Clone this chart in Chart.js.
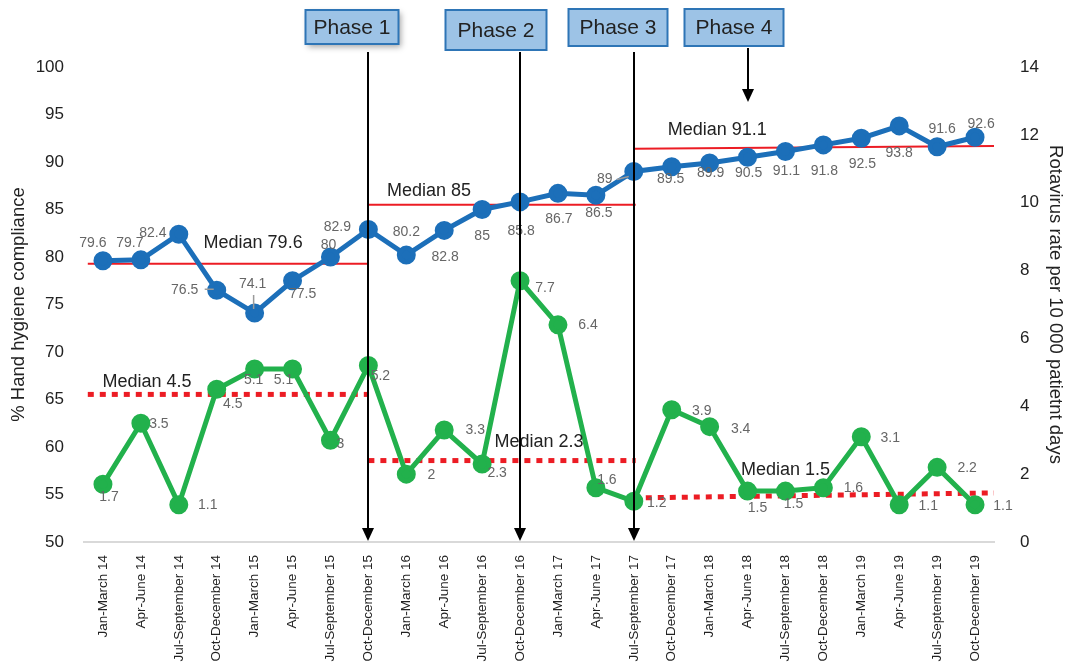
<!DOCTYPE html>
<html>
<head>
<meta charset="utf-8">
<script src="https://cdn.jsdelivr.net/npm/chart.js@4.4.0/dist/chart.umd.min.js"></script>
<style>
  html, body { margin: 0; padding: 0; background: #fff; }
  #wrap { width: 1068px; height: 667px; }
</style>
</head>
<body>
<div id="wrap"><canvas id="c"></canvas></div>
<script>
// quarters
const quarters = [];
["14", "15", "16", "17", "18", "19"].forEach(yr => {
  quarters.push("Jan-March " + yr, "Apr-June " + yr, "Jul-September " + yr, "Oct-December " + yr);
});

const handHygiene = [79.6, 79.7, 82.4, 76.5, 74.1, 77.5, 80, 82.9, 80.2, 82.8, 85, 85.8,
                     86.7, 86.5, 89, 89.5, 89.9, 90.5, 91.1, 91.8, 92.5, 93.8, 91.6, 92.6];
const rotavirus = [1.7, 3.5, 1.1, 4.5, 5.1, 5.1, 3, 5.2, 2, 3.3, 2.3, 7.7,
                   6.4, 1.6, 1.2, 3.9, 3.4, 1.5, 1.5, 1.6, 3.1, 1.1, 2.2, 1.1];

const leftTicks = [50, 55, 60, 65, 70, 75, 80, 85, 90, 95, 100];
const rightTicks = [0, 2, 4, 6, 8, 10, 12, 14];

// median segments (x in quarter index)
const segStart = [-0.4, 7, 14];
const segEnd = [7, 14.05, 23.7];
const handMedianStart = [79.3, 85.5, 91.4];
const handMedianEnd = [79.3, 85.5, 91.7];
const rotaMedianStart = [4.35, 2.4, 1.3];
const rotaMedianEnd = [4.35, 2.4, 1.45];
const handMedianText = ["Median 79.6", "Median 85", "Median 91.1"];
const rotaMedianText = ["Median 4.5", "Median 2.3", "Median 1.5"];

const phaseNames = ["Phase 1", "Phase 2", "Phase 3", "Phase 4"];
const phaseAt = [7, 11, 14, 17];

const BLUE = "#1c6fb9", GREEN = "#22b14c", RED = "#ec1c24";
const FONT = "'Liberation Sans', Arial, sans-serif";

function segData(startY, endY, i) {
  return [{ x: segStart[i], y: startY[i] }, { x: segEnd[i], y: endY[i] }];
}

const datasets = [
  { label: "Hand hygiene", data: handHygiene, xAxisID: "x", yAxisID: "yL",
    borderColor: BLUE, backgroundColor: BLUE, borderWidth: 5, pointRadius: 7,
    pointHoverRadius: 7, tension: 0, order: 1 },
  { label: "Rotavirus", data: rotavirus, xAxisID: "x", yAxisID: "yR",
    borderColor: GREEN, backgroundColor: GREEN, borderWidth: 5, pointRadius: 7,
    pointHoverRadius: 7, tension: 0, order: 1 }
];
for (let i = 0; i < 3; i++) {
  datasets.push({ data: segData(handMedianStart, handMedianEnd, i), xAxisID: "xl", yAxisID: "yL",
    borderColor: RED, borderWidth: 2, pointRadius: 0, order: 2 });
  datasets.push({ data: segData(rotaMedianStart, rotaMedianEnd, i), xAxisID: "xl", yAxisID: "yR",
    borderColor: RED, borderWidth: 5, borderDash: [6, 6], borderCapStyle: "butt",
    pointRadius: 0, order: 2 });
}

// per point label offsets (px)
const handLabelOff = [[-10,-18],[-11,-17],[-26,-1],[-32,0],[-2,-29],[10,13],[-2,-12],[-31,-2],
  [0,-23],[1,27],[0,27],[1,29],[1,26],[3,18],[-29,8],[-1,12],[1,10],[1,16],[1,20],[1,26],
  [1,26],[0,27],[5,-18],[6,-13]];
const rotaLabelOff = [[6,13],[18,1],[29,0],[16,15],[-1,11],[-9,11],[10,4],[12,11],[25,1],
  [31,0],[15,9],[25,7],[30,0],[11,-8],[23,2],[30,1],[31,2],[10,17],[8,13],[30,0],[29,1],
  [29,1],[30,1],[28,1]];

const labelPlugin = {
  id: "labels",
  afterDatasetsDraw(chart) {
    const ctx = chart.ctx;
    ctx.save();
    // small leader lines (76.5, 74.1, 89)
    const hp = chart.getDatasetMeta(0).data;
    ctx.strokeStyle = "#9a9a9a";
    ctx.lineWidth = 1.5;
    ctx.beginPath();
    ctx.moveTo(hp[3].x - 12, hp[3].y - 1); ctx.lineTo(hp[3].x - 3, hp[3].y - 1);
    ctx.moveTo(hp[4].x - 1, hp[4].y - 18); ctx.lineTo(hp[4].x - 1, hp[4].y - 4);
    ctx.moveTo(hp[14].x - 17, hp[14].y + 8); ctx.lineTo(hp[14].x - 5, hp[14].y + 5);
    ctx.stroke();

    ctx.font = "14px " + FONT;
    ctx.fillStyle = "#666";
    ctx.textAlign = "center";
    ctx.textBaseline = "middle";
    [[0, handHygiene, handLabelOff], [1, rotavirus, rotaLabelOff]].forEach(([di, vals, off]) => {
      chart.getDatasetMeta(di).data.forEach((pt, i) => {
        ctx.fillText(String(vals[i]), pt.x + off[i][0], pt.y + off[i][1]);
      });
    });
    // median captions
    const x = chart.scales.xl, yL = chart.scales.yL, yR = chart.scales.yR;
    ctx.font = "18px " + FONT;
    ctx.fillStyle = "#222";
    const handPos = [[3.96, 81.5], [8.6, 86.9], [16.2, 93.4]];
    const rotaPos = [[1.16, 4.72], [11.5, 2.95], [18.0, 2.12]];
    handMedianText.forEach((t, i) => ctx.fillText(t, x.getPixelForValue(handPos[i][0]), yL.getPixelForValue(handPos[i][1])));
    rotaMedianText.forEach((t, i) => ctx.fillText(t, x.getPixelForValue(rotaPos[i][0]), yR.getPixelForValue(rotaPos[i][1])));
    ctx.restore();
  }
};

const phasePlugin = {
  id: "phases",
  afterDraw(chart) {
    const ctx = chart.ctx;
    const x = chart.scales.x;
    const bottom = chart.chartArea.bottom;
    const boxDx = [-16, -24, -16, -14];
    const boxTop = [10, 10, 9, 9];
    const boxH = [34, 40, 37, 37];
    const boxW = [93, 101, 99, 99];
    const arrowTop = [52, 52, 52, 48];
    const arrowEnd = [bottom - 1, bottom - 1, bottom - 1, 102];
    ctx.save();
    phaseNames.forEach((name, i) => {
      const px = Math.round(x.getPixelForValue(phaseAt[i]));
      // arrow
      ctx.strokeStyle = "#000";
      ctx.fillStyle = "#000";
      ctx.lineWidth = 2;
      ctx.beginPath();
      ctx.moveTo(px, arrowTop[i]);
      ctx.lineTo(px, arrowEnd[i] - 12);
      ctx.stroke();
      ctx.beginPath();
      ctx.moveTo(px - 6, arrowEnd[i] - 13);
      ctx.lineTo(px + 6, arrowEnd[i] - 13);
      ctx.lineTo(px, arrowEnd[i]);
      ctx.closePath();
      ctx.fill();
      // box
      const cx = px + boxDx[i];
      const bx = cx - boxW[i] / 2;
      if (i === 0) {
        ctx.shadowColor = "rgba(0,0,0,0.35)";
        ctx.shadowBlur = 6;
        ctx.shadowOffsetX = 2;
        ctx.shadowOffsetY = 3;
      }
      ctx.fillStyle = "#9dc3e6";
      ctx.fillRect(bx, boxTop[i], boxW[i], boxH[i]);
      ctx.shadowColor = "transparent";
      ctx.strokeStyle = "#2e75b6";
      ctx.lineWidth = 2;
      ctx.strokeRect(bx, boxTop[i], boxW[i], boxH[i]);
      ctx.fillStyle = "#222";
      ctx.font = "21px " + FONT;
      ctx.textAlign = "center";
      ctx.textBaseline = "middle";
      ctx.fillText(name, cx, boxTop[i] + boxH[i] / 2 + 1);
    });
    ctx.restore();
  }
};

new Chart(document.getElementById("c"), {
  type: "line",
  data: { labels: quarters, datasets: datasets },
  plugins: [labelPlugin, phasePlugin],
  options: {
    responsive: true,
    maintainAspectRatio: false,
    animation: false,
    layout: { padding: { top: 67, left: 0, right: 0, bottom: 0 } },
    plugins: { legend: { display: false }, tooltip: { enabled: false } },
    scales: {
      x: {
        type: "category",
        offset: true,
        grid: { display: false },
        border: { display: true, color: "#d9d9d9", width: 2 },
        ticks: { color: "#222", font: { size: 13.5, family: FONT }, minRotation: 90, maxRotation: 90,
                 autoSkip: false, padding: 5 },
        afterFit(s) { s.height = 125; }
      },
      xl: { type: "linear", display: false, min: -0.5, max: 23.5 },
      yL: {
        position: "left", min: 50, max: 100,
        afterBuildTicks(s) { s.ticks = leftTicks.map(v => ({ value: v })); },
        grid: { display: false }, border: { display: false },
        ticks: { color: "#222", font: { size: 17, family: FONT }, padding: 12 },
        title: { display: true, text: "% Hand hygiene compliance", color: "#222",
                 font: { size: 18.5, family: FONT }, padding: { top: 8, bottom: 2 } },
        afterFit(s) { s.width = 84; }
      },
      yR: {
        position: "right", min: 0, max: 14,
        afterBuildTicks(s) { s.ticks = rightTicks.map(v => ({ value: v })); },
        grid: { display: false }, border: { display: false },
        ticks: { color: "#222", font: { size: 17, family: FONT }, padding: 18 },
        title: { display: true, text: "Rotavirus rate per 10 000 patietnt days", color: "#222",
                 font: { size: 18.5, family: FONT }, padding: 2 },
        afterFit(s) { s.width = 74; }
      }
    }
  }
});
</script>
</body>
</html>
